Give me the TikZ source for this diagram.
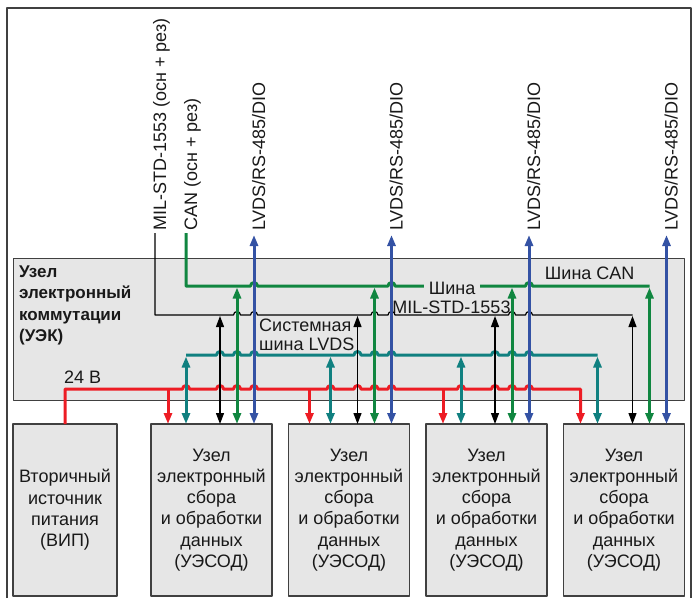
\documentclass[tikz,border=0pt]{standalone}
\usepackage{fontspec}
\setmainfont{Liberation Sans}
\usetikzlibrary{arrows.meta,positioning}

\definecolor{uekgray}{RGB}{230,230,230}
\definecolor{edgegray}{RGB}{64,64,64}
\definecolor{pwrred}{RGB}{237,28,36}
\definecolor{cangreen}{RGB}{16,134,64}
\definecolor{lvdsteal}{RGB}{16,128,128}
\definecolor{ioblue}{RGB}{52,82,164}

\tikzset{
  txt/.style={font=\fontsize{18}{21.3}\selectfont, inner sep=0pt, text=black!90},
  unitbox/.style={txt, draw=edgegray, line width=1.3pt, fill=uekgray, outer sep=0pt,
    minimum height=172pt, align=center, anchor=north west,
    execute at begin node={\rule{0pt}{19pt}}},
  buswire/.style={line width=3pt},
  sigwire/.style={line width=1.2pt},
  vlabel/.style={txt, rotate=90, anchor=west, text height=13pt, text depth=4pt},
}

\begin{document}
\begin{tikzpicture}[x=1pt, y=1pt, line join=round, >={Triangle[length=11pt,width=8pt]}]
  \useasboundingbox (0,0) rectangle (696,-598);
  \draw[edgegray, line width=1.2pt] (7,-598) -- (7,-8) -- (691,-8) -- (691,-598);   % outer frame

  % switching node
  \node[draw=edgegray, line width=1.3pt, fill=uekgray, minimum width=671pt,
        minimum height=142pt, anchor=north west] (uek) at (13,-258) {};
  \node[txt, font=\fontsize{17}{21.3}\selectfont\bfseries, align=left, anchor=west]
        (uekname) at (19,-305.5) {Узел\\электронный\\коммутации\\(УЭК)};

  % power source and data units
  \node[unitbox, minimum width=104pt] (vip) at (13,-424) {Вторичный\\источник\\питания\\(ВИП)};
  \node[unitbox, minimum width=121pt, right=34pt of vip] (u1) {Узел\\электронный\\сбора\\и обработки\\данных\\(УЭСОД)};
  \node[unitbox, minimum width=121pt, right=16.5pt of u1] (u2) {Узел\\электронный\\сбора\\и обработки\\данных\\(УЭСОД)};
  \node[unitbox, minimum width=121pt, right=16.5pt of u2] (u3) {Узел\\электронный\\сбора\\и обработки\\данных\\(УЭСОД)};
  \node[unitbox, minimum width=121pt, right=16.5pt of u3] (u4) {Узел\\электронный\\сбора\\и обработки\\данных\\(УЭСОД)};

  % inputs of each unit: r = power, t = LVDS, k = MIL, g = CAN, b = LVDS/RS-485/DIO
  \foreach \unit/\r/\t in {u1/17/35, u2/21/42, u3/17/35, u4/17/34} {
    \path (\unit.north west) ++(\r,0) coordinate (\unit r)
          (\unit.north west) ++(\t,0) coordinate (\unit t)
          (\unit.north west) ++(69,0) coordinate (\unit k) ++(17,0) coordinate (\unit g)
          ++(17,0) coordinate (\unit b);
  }

  % bus levels
  \coordinate (canbus) at (0,-286);
  \coordinate (milbus) at (0,-315);
  \coordinate (lvdsbus) at (0,-355);
  \coordinate (pwrbus) at (0,-389);
  \coordinate (miltop) at (155,-233);
  \coordinate (cantop) at (186,-233);

  % external lines
  \node[vlabel] (millbl) at ([xshift=6.5pt,yshift=2pt]miltop) {MIL-STD-1553 (осн + рез)};
  \node[vlabel] (canlbl) at ([xshift=6.5pt,yshift=2pt]cantop) {CAN (осн + рез)};
  \foreach \unit in {u1,u2,u3,u4} {
    \node[vlabel] (\unit lbl) at ([xshift=6.5pt]\unit b |- 0,-231) {LVDS/RS-485/DIO};
  }

  % CAN bus
  \draw[buswire, cangreen] (cantop) -- (cantop |- canbus)
    \foreach \c in {u1b,u2b,u3b} { -- ([xshift=-3.5pt]\c |- canbus) arc[start angle=180, end angle=0, radius=3.5] }
    -- (u4g |- canbus);
  \node[txt, fill=uekgray, inner xsep=5pt, inner ysep=2pt] (canname) at (452,-288.5) {Шина};
  \node[txt] (milname) at (451.5,-307.5) {MIL-STD-1553};
  \node[txt] (cantitle) at (589.7,-273.5) {Шина CAN};

  % MIL-STD-1553 bus
  \draw[sigwire] (miltop) -- (miltop |- milbus)
    \foreach \c in {u1g,u1b,u2g,u2b,u3g,u3b} { -- ([xshift=-3.5pt]\c |- milbus) arc[start angle=180, end angle=0, radius=3.5] }
    -- (u4k |- milbus);

  % LVDS system bus
  \draw[buswire, lvdsteal] (u1t |- lvdsbus)
    \foreach \c in {u1k,u1g,u1b,u2k,u2g,u2b,u3k,u3g,u3b} { -- ([xshift=-3.5pt]\c |- lvdsbus) arc[start angle=180, end angle=0, radius=3.5] }
    -- (u4t |- lvdsbus);
  \node[txt, align=left, anchor=west, font=\fontsize{18}{19.5}\selectfont] (lvdsname) at (259,-335) {Системная\\шина LVDS};

  % 24 V power line
  \draw[buswire, pwrred, ->] (vip.north) -- (vip.north |- pwrbus)
    \foreach \c in {u1t,u1k,u1g,u1b,u2t,u2k,u2g,u2b,u3t,u3k,u3g,u3b} { -- ([xshift=-3.5pt]\c |- pwrbus) arc[start angle=180, end angle=0, radius=3.5] }
    -- (u4r |- pwrbus) -- (u4r);
  \node[txt, anchor=base west] (pwrname) at (64,-383) {24 В};

  % drops to the units
  \foreach \unit in {u1,u2,u3} {
    \draw[buswire, pwrred, ->] (\unit r |- pwrbus) -- (\unit r);
  }
  \foreach \unit in {u1,u2,u3,u4} {
    \draw[buswire, lvdsteal, <->] ([yshift=-1.5pt]\unit t |- lvdsbus) -- (\unit t);
    \draw[sigwire, <->] ([yshift=-1pt]\unit k |- milbus) -- (\unit k);
    \draw[buswire, cangreen, <->] ([yshift=-1.5pt]\unit g |- canbus) -- (\unit g);
    \draw[buswire, ioblue, <->] ([yshift=-4pt]\unit b |- \unit lbl.west) -- (\unit b);
  }
\end{tikzpicture}
\end{document}
